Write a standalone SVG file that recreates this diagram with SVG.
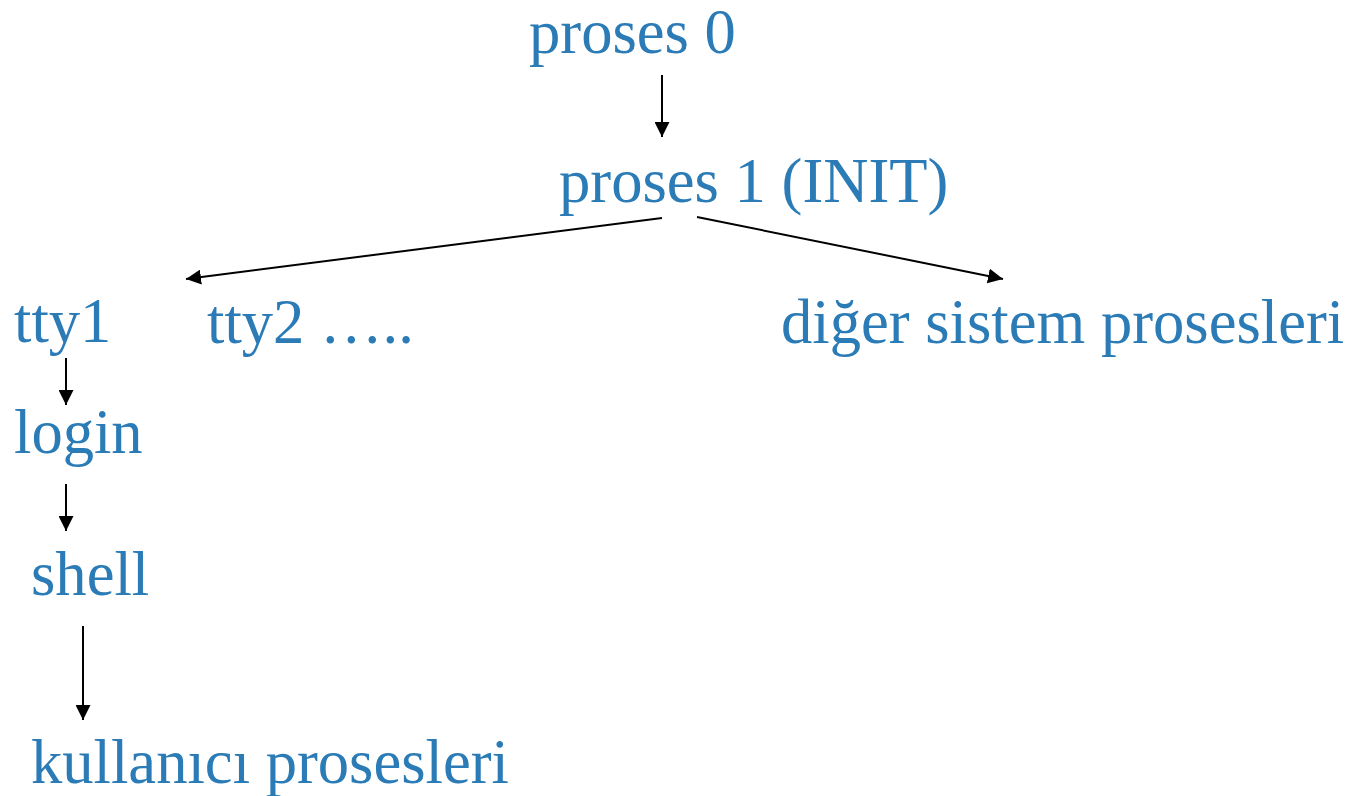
<svg xmlns="http://www.w3.org/2000/svg" width="1352" height="796" viewBox="0 0 1352 796">
  <style>
    .lbl { font-family: "Liberation Serif", "Times New Roman", serif; font-size: 62.6px; fill: #2a7bb6; }
    .edge { stroke: #000; stroke-width: 2; fill: none; marker-end: url(#head); }
  </style>
  <defs>
    <marker id="head" viewBox="0 0 15 15" refX="15" refY="7.5" markerWidth="15" markerHeight="15" markerUnits="userSpaceOnUse" orient="auto">
      <path d="M0,0 L15,7.5 L0,15 z" fill="#000"/>
    </marker>
  </defs>
  <rect width="1352" height="796" fill="#fff"/>

  <g id="connectors">
    <line class="edge" x1="662" y1="75" x2="662" y2="137"/>
    <line class="edge" x1="662" y1="218" x2="186" y2="279"/>
    <line class="edge" x1="697" y1="217" x2="1003" y2="279"/>
    <line class="edge" x1="66" y1="358" x2="66" y2="405"/>
    <line class="edge" x1="66" y1="484" x2="66" y2="531"/>
    <line class="edge" x1="83" y1="626" x2="83" y2="720"/>
  </g>

  <g id="proses0"><text class="lbl" x="529" y="53">proses 0</text></g>
  <g id="proses1"><text class="lbl" x="559" y="202">proses 1 (INIT)</text></g>
  <g id="tty1"><text class="lbl" x="14" y="342">tty1</text></g>
  <g id="tty2"><text class="lbl" x="207" y="343">tty2 …..</text></g>
  <g id="diger"><text class="lbl" x="781" y="343">diğer sistem prosesleri</text></g>
  <g id="login"><text class="lbl" x="14" y="453">login</text></g>
  <g id="shell"><text class="lbl" x="31" y="595">shell</text></g>
  <g id="kullanici"><text class="lbl" x="31" y="783">kullanıcı prosesleri</text></g>
</svg>
